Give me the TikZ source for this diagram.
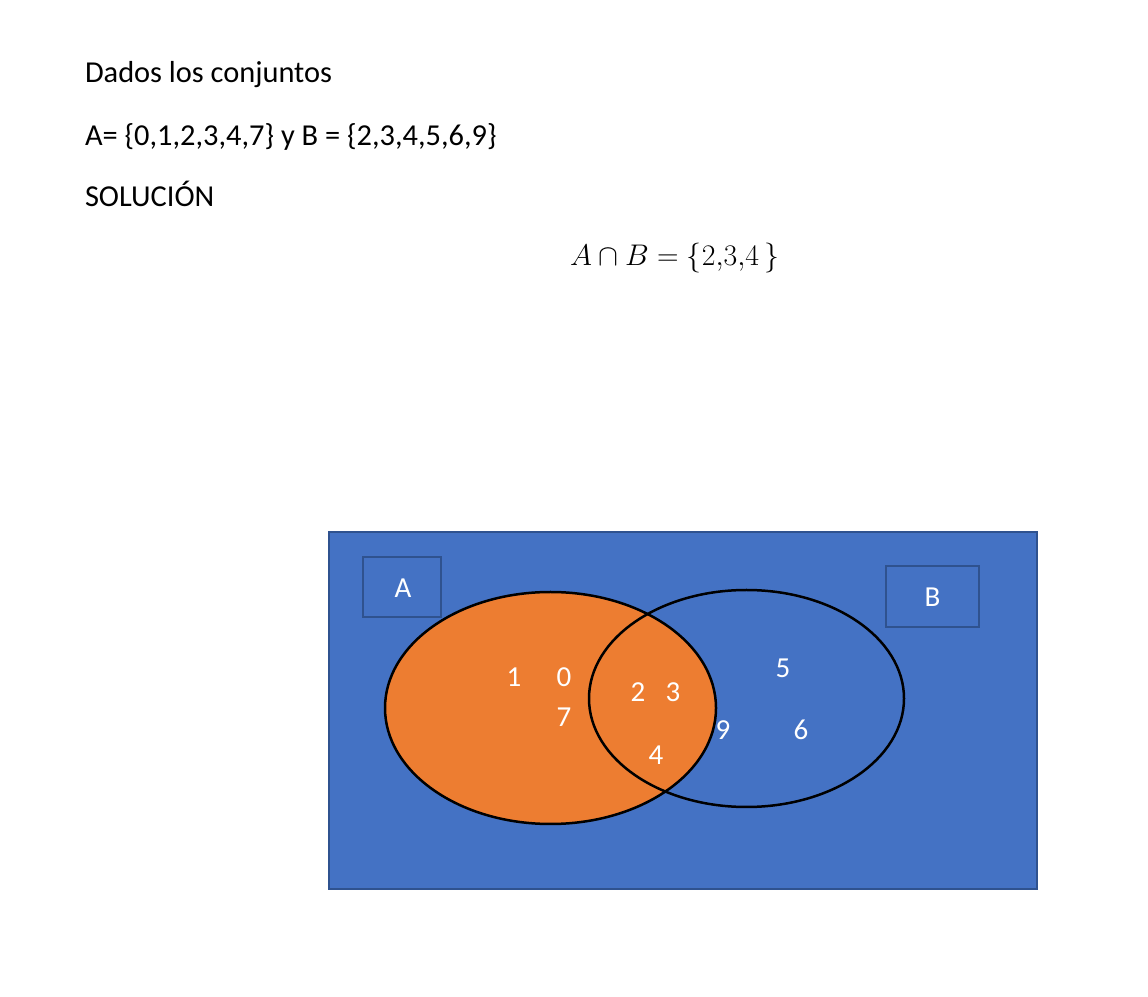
\documentclass[tikz,border=0pt]{standalone}
\usepackage{fontspec}
\setmainfont{Carlito}
\begin{document}
\begin{tikzpicture}[x=1pt,y=1pt,
  txt/.style={anchor=base west,inner sep=0pt,outer sep=0pt,font=\fontsize{30.4}{36}\selectfont},
  elem/.style={text=white,inner sep=0pt,outer sep=0pt,font=\fontsize{29}{34}\selectfont}]
\definecolor{fillColor}{RGB}{255,255,255}
\path[use as bounding box,fill=fillColor] (0,0) rectangle (1148,996);

\node[txt] (title) at ( 85.00,913.00) {Dados los conjuntos};
\node[txt] (sets) at ( 85.00,850.00) {A= \{0,1,2,3,4,7\} y B = \{2,3,4,5,6,9\}};
\node[txt] (sol) at ( 85.00,789.00) {SOLUCIÓN};
\node[anchor=base west,inner sep=0pt,outer sep=0pt,scale=1.2,font=\fontsize{29}{34}\selectfont] (inter) at (570.00,730.00) {$A\cap B=\{2{,}3{,}4\,\}$};

\definecolor{drawColor}{RGB}{47,82,143}
\definecolor{fillColor}{RGB}{68,114,196}

\path[draw=drawColor,line width= 2.5pt,fill=fillColor] (329.00,107.00) rectangle (1037.00,464.00);
\path[draw=drawColor,line width= 2.5pt,fill=fillColor] (363.00,379.00) rectangle (441.00,439.00);
\path[draw=drawColor,line width= 2.5pt,fill=fillColor] (886.00,369.00) rectangle (979.00,430.00);
\definecolor{drawColor}{RGB}{0,0,0}
\definecolor{fillColor}{RGB}{237,125,49}

\path[draw=drawColor,line width= 2.5pt,fill=fillColor] (550.50,288.00) ellipse [x radius=165.5,y radius=116];
\path[draw=drawColor,line width= 2.5pt] (746.50,297.50) ellipse [x radius=157.5,y radius=108.5];

\node[elem] (labA) at (403.00,408.00) {A};
\node[elem] (labB) at (932.50,399.00) {B};

\node[elem] (e1) at (514.00,319.00) {1};
\node[elem] (e0) at (564.00,319.00) {0};
\node[elem] (e7) at (564.00,279.00) {7};
\node[elem] (e2) at (638.00,304.00) {2};
\node[elem] (e3) at (673.00,304.00) {3};
\node[elem] (e4) at (656.00,241.00) {4};
\node[elem] (e9) at (723.00,266.00) {9};
\node[elem] (e5) at (783.00,328.00) {5};
\node[elem] (e6) at (801.00,266.00) {6};
\end{tikzpicture}
\end{document}
